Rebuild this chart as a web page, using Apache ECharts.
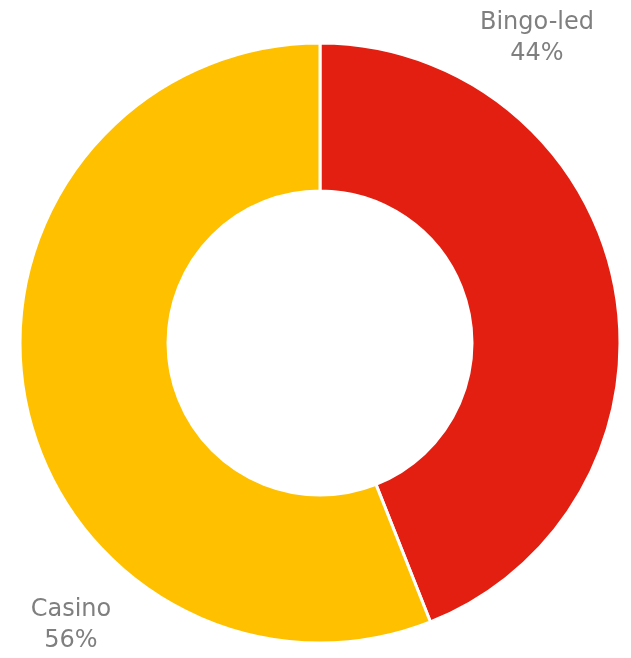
<!DOCTYPE html>
<html><head><meta charset="utf-8">
<script src="https://cdn.jsdelivr.net/npm/echarts@6/dist/echarts.min.js"></script>
<style>html,body{margin:0;padding:0;background:#fff}#c{width:631px;height:658px}</style>
</head><body><div id="c"></div>
<script>
const categories = ['Bingo-led', 'Casino'];
const values = [44, 56];
const colors = ['#E31F11', '#FFC000'];
const labelPos = [[537, 38], [71, 625]];

const total = values.reduce((a, b) => a + b, 0);
const chart = echarts.init(document.getElementById('c'), null, {renderer: 'canvas'});
chart.setOption({
  animation: false,
  graphic: categories.map((n, i) => ({
    type: 'text',
    x: labelPos[i][0],
    y: labelPos[i][1],
    silent: true,
    style: {
      text: n + '\n' + Math.round(values[i] / total * 100) + '%',
      fill: '#7F7F7F',
      font: '24px "DejaVu Sans"',
      lineHeight: 31,
      align: 'center',
      verticalAlign: 'middle'
    }
  })),
  series: [{
    type: 'pie',
    center: [320, 343],
    radius: [152, 300],
    startAngle: 90,
    clockwise: true,
    data: categories.map((n, i) => ({name: n, value: values[i], itemStyle: {color: colors[i]}})),
    itemStyle: {borderColor: '#fff', borderWidth: 3},
    label: {show: false},
    labelLine: {show: false},
    emphasis: {disabled: true}
  }]
});
</script></body></html>
